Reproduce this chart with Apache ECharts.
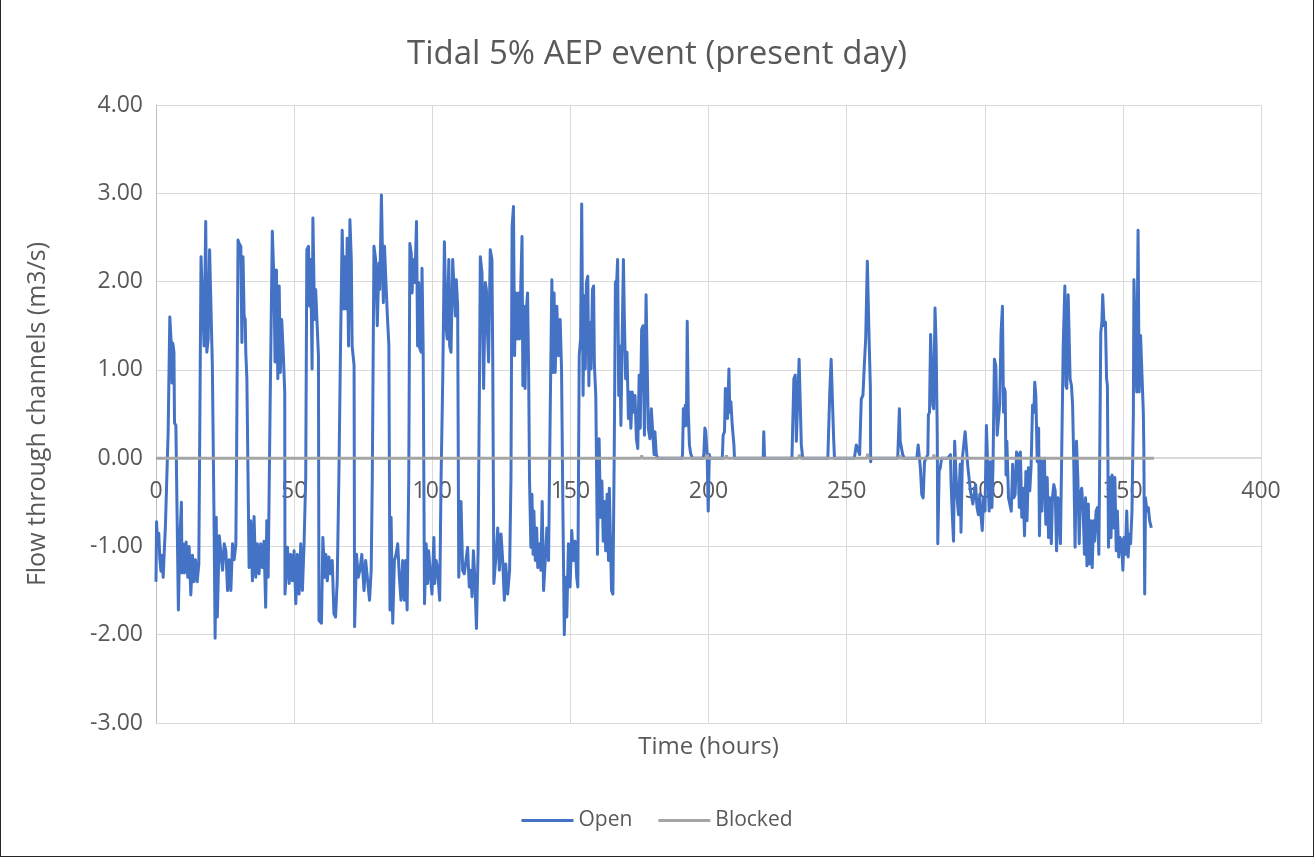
<!DOCTYPE html>
<html>
<head>
<meta charset="utf-8">
<title>Tidal 5% AEP event (present day)</title>
<script src="https://cdn.jsdelivr.net/npm/echarts@6/dist/echarts.min.js"></script>
<style>
  html, body { margin: 0; padding: 0; background: #fff; }
  #chart {
    width: 1312px;
    height: 856px;
    border-left: 1px solid #262626;
    border-right: 1px solid #262626;
    border-bottom: 1px solid #262626;
  }
</style>
</head>
<body>
<div id="chart"></div>
<script>
const chartTitle = 'Tidal 5% AEP event (present day)'
const xAxisTitle = 'Time (hours)'
const yAxisTitle = 'Flow through channels (m3/s)'
const seriesNames = ['Open', 'Blocked']

// x ticks 0..400 step 50, y ticks -3..4 step 1
const xTicks = [0, 50, 100, 150, 200, 250, 300, 350, 400]
const yTicks = [-3, -2, -1, 0, 1, 2, 3, 4]

// [time (h), flow (m3/s)]
const openFlow = [
  [0, -1.40], [0.2, -0.72], [0.6, -1.00], [1.0, -0.85], [1.4, -1.15], [1.8, -1.28], [2.2, -1.10], [2.6, -1.35],
  [3.0, -1.05], [3.4, -0.78], [3.8, -0.78], [4.4, 0.30], [5.0, 1.60], [5.6, 1.25], [5.8, 0.85], [6.1, 1.30],
  [6.5, 1.20], [6.7, 0.40], [7.2, 0.37], [8.1, -1.72], [8.6, -0.95], [9.2, -0.50], [9.4, -1.30], [9.8, -0.97],
  [10.3, -1.30], [10.9, -0.95], [11.5, -1.35], [12.0, -1.00], [12.6, -1.55], [13.2, -1.10], [13.7, -1.40], [14.3, -1.15],
  [14.9, -1.40], [15.5, -1.20], [16.3, 2.28], [16.9, 2.28], [17.4, 1.27], [18.0, 2.68], [18.4, 1.20], [18.9, 1.35],
  [19.4, 2.36], [19.8, 2.36], [20.4, 1.05], [21.0, -0.67], [21.4, -2.04], [21.8, -0.67], [22.2, -1.80], [22.9, -0.88],
  [23.5, -0.90], [24.1, -1.27], [24.7, -0.97], [25.3, -1.05], [25.9, -1.50], [26.5, -1.15], [27.1, -1.50], [27.7, -0.97],
  [28.3, -1.15], [28.9, -0.98], [29.2, 0.15], [29.7, 2.47],
  [30.1, 2.43], [30.7, 2.40], [31.1, 1.31], [31.5, 2.28], [31.9, 1.61], [32.3, 1.57], [32.5, 1.20], [32.9, 0.90],
  [33.7, -1.24], [34.3, -0.71], [34.9, -1.39], [35.5, -0.66], [36.1, -1.35], [36.7, -0.97], [37.3, -1.31], [37.9, -0.97],
  [38.5, -1.24], [39.1, -0.94], [39.7, -1.69], [40.1, -0.71], [40.6, -1.35], [41.3, 0.56], [42.1, 2.57], [42.7, 2.02],
  [43.1, 1.09], [43.6, 2.13], [44.1, 0.90], [44.6, 1.95], [45.0, 0.97], [45.5, 1.57], [46.0, 1.24], [46.6, 0.75],
  [46.7, -1.54], [47.6, -1.01], [48.2, -1.42], [48.8, -1.09], [49.4, -1.39], [50.0, -1.05], [50.6, -1.65], [51.2, -1.09],
  [51.8, -1.54], [52.4, -0.97], [53.0, -1.50], [53.6, -0.97], [54.2, -0.22], [54.6, 2.36], [55.2, 2.40], [55.6, 1.72],
  [56.0, 2.25], [56.5, 1.01], [56.8, 2.72], [57.4, 1.57], [57.8, 1.91], [58.4, 1.91], [58.8, 1.16], [59.0, -1.84],
  [59.9, -1.87], [60.4, -0.90],
  [61.1, -1.35], [61.5, -1.09], [62.0, -1.39], [62.6, -1.12], [63.2, -1.31], [63.8, -1.16], [64.4, -1.76], [65.0, -1.80],
  [65.6, -1.39], [66.2, -0.22], [66.8, 1.27], [67.4, 2.58], [68.0, 1.69], [68.4, 2.28], [68.9, 1.69], [69.2, 2.49],
  [69.7, 1.27], [70.2, 2.70], [70.7, 2.25], [71.0, 1.27], [71.7, 1.05], [71.9, -1.91], [72.6, -1.09], [73.2, -1.35],
  [73.8, -1.27], [74.5, -1.09], [75.3, -1.50], [75.9, -1.16], [76.5, -1.35], [77.3, -1.61], [77.9, -1.27], [78.3, -0.22],
  [78.9, 2.40], [79.5, 2.25], [80.1, 1.50], [80.7, 2.21], [81.0, 1.91], [81.6, 2.98], [82.3, 1.76], [82.7, 2.40],
  [83.2, 2.02], [83.7, 1.65], [84.3, 1.27], [84.7, -1.72], [85.1, -0.67], [85.7, -1.87], [86.3, -1.16], [86.9, -1.09],
  [87.5, -0.97], [88.1, -1.35], [88.7, -1.61], [89.3, -1.16], [89.9, -1.61], [90.4, -1.16], [90.9, -1.72], [91.5, -0.22],
  [91.9, 2.43],
  [92.4, 2.32], [92.7, 1.87], [93.1, 2.25], [93.7, 1.99], [94.3, 2.68], [94.7, 1.27], [95.1, 1.99], [95.5, 1.24],
  [96.0, 1.20], [96.3, 2.15], [96.7, 1.27], [97.2, -1.65], [97.8, -0.97], [98.3, -1.42], [98.7, -1.05], [99.3, -1.31],
  [99.9, -1.54], [100.6, -0.90], [100.9, -1.42], [101.4, -1.16], [101.9, -1.24], [102.7, -1.61], [103.2, -0.22], [103.8, 0.90],
  [104.4, 2.45], [105.0, 1.50], [105.4, 1.35], [106.0, 2.25], [106.3, 1.27], [106.8, 1.20], [107.4, 2.25], [108.0, 2.27],
  [108.4, 1.61], [108.7, 2.02], [109.2, 1.72], [109.6, -1.35], [109.9, -1.35], [110.4, -0.49], [111.0, -1.27], [111.6, -1.31],
  [112.2, -1.16], [112.8, -1.01], [113.4, -1.46], [113.9, -1.27], [114.4, -1.57], [114.9, -1.05], [115.4, -1.35], [116.0, -1.93],
  [116.6, -1.05], [117.1, 0.90], [117.4, 2.28], [118.0, 2.10], [118.6, 0.79], [119.2, 1.99], [119.6, 1.91], [120.0, 1.42],
  [120.4, 1.09], [121.0, 2.36], [121.6, 2.25], [121.9, 1.12], [122.3, -1.42],
  [123.2, -1.05], [123.7, -0.79], [124.3, -1.27], [124.9, -0.86], [125.5, -1.16], [126.1, -1.61], [126.6, -1.20], [127.3, -1.54],
  [128.0, -1.27], [128.5, -0.22], [128.9, 2.62], [129.4, 2.85], [129.8, 1.16], [130.2, 1.87], [130.7, 1.35], [131.1, 1.87],
  [131.6, 1.35], [132.1, 2.02], [132.5, 2.51], [132.8, 0.82], [133.2, 1.72], [133.6, 0.79], [134.0, 1.65], [134.5, 1.87],
  [134.9, 0.97], [135.2, -0.22], [135.7, -1.01], [136.1, -0.41], [136.5, -1.09], [136.8, -0.60], [137.3, -1.16], [137.8, -0.79],
  [138.2, -1.24], [138.9, -0.97], [139.3, -1.27], [139.8, -0.49], [140.3, -1.50], [140.9, -1.16], [141.5, -0.79], [142.1, -1.16],
  [142.7, 0.52], [143.3, 2.02], [143.7, 0.97], [144.1, 1.87], [144.5, 0.97], [145.1, 1.72], [145.7, 1.16], [146.3, 1.57],
  [146.8, 1.01], [147.3, -0.60], [147.8, -2.00], [148.3, -1.35], [148.7, -1.80], [149.3, -0.97], [149.9, -1.46], [150.5, -0.82],
  [151.1, -1.16], [151.7, -0.94],
  [152.3, -1.35], [152.7, -1.46], [153.2, 1.16], [153.7, 1.35], [154.1, 2.88], [154.6, 0.71], [155.0, 1.84], [155.4, 1.01],
  [155.8, 1.99], [156.3, 2.06], [156.7, 0.82], [157.0, 1.54], [157.5, 1.01], [158.0, 1.91], [158.4, 1.95], [158.7, 1.05],
  [159.2, 0.71], [159.8, -1.09], [160.4, 0.22], [160.9, -0.67], [161.4, -0.26], [161.9, -0.94], [162.3, -0.49], [162.8, -1.05],
  [163.3, -0.41], [163.8, -1.16], [164.1, -0.34], [164.6, -0.34], [164.9, -1.50], [165.4, -1.54], [165.9, 0.15], [166.3, 1.99],
  [166.8, 2.02], [167.1, 2.25], [167.5, 0.71], [167.9, 1.27], [168.3, 0.37], [168.8, 1.46], [169.2, 2.25], [169.5, 1.65],
  [170.0, 0.90], [170.5, 1.20], [171.0, 0.45], [171.5, 0.75], [171.9, 0.34], [172.4, 0.75], [172.9, 0.52], [173.4, 0.71],
  [173.9, 0.22], [174.4, 0.11], [174.9, 0.94], [175.3, 0.34], [175.8, 1.46], [176.3, 1.50], [176.8, 0.26], [177.4, 1.85],
  [177.7, 1.27], [178.2, 0.34], [178.8, 0.22], [179.3, 0.56], [179.8, 0.30], [180.3, 0.04], [180.6, 0.30], [181.1, 0.04],
  [181.6, 0],
  [190.4, 0], [190.6, 0.04], [190.9, 0.56], [191.2, 0.36], [191.6, 0.60], [192.0, 0.37], [192.3, 1.55], [192.7, 0.52],
  [193.1, 0.15], [193.5, 0.06], [194.1, 0], [198.0, 0], [198.3, 0.04], [198.7, 0.34], [199.0, 0.30], [199.5, 0.04],
  [199.9, -0.60], [200.3, 0.04], [200.6, 0], [205.0, 0], [205.3, 0.26], [205.8, 0.30], [206.1, 0.79], [206.5, 0.79],
  [206.9, 0.45], [207.4, 1.01], [207.7, 0.52], [208.1, 0.64], [208.6, 0.37], [209.2, 0.15], [209.4, 0],
  [219.8, 0], [220.0, 0.30], [220.3, 0], [230.2, 0], [230.9, 0.90], [231.4, 0.94], [231.8, 0.19], [232.4, 0.17],
  [232.8, 1.12], [233.2, 1.12], [233.6, 0.15], [234.1, 0], [243.2, 0], [243.9, 0.75], [244.4, 1.12], [244.8, 1.12],
  [245.3, 0.22], [245.6, 0],
  [252.8, 0], [253.5, 0.15], [254.1, 0.15], [254.7, 0.04], [255.3, 0.67], [255.9, 0.71], [256.4, 1.05], [256.9, 1.35],
  [257.5, 2.23], [258.1, 1.39], [258.6, 0.79], [258.7, -0.04], [258.9, 0], [268.5, 0], [269.1, 0.56], [269.4, 0.19],
  [269.8, 0.19], [270.3, 0.04], [270.9, 0], [275.4, 0], [275.9, 0.15], [276.2, 0.15], [276.7, -0.11], [277.2, -0.41],
  [277.7, -0.45], [278.2, -0.04], [278.8, 0], [279.4, 0.04], [279.6, 0.49], [280.0, 0.52], [280.4, 1.40], [280.8, 1.38],
  [281.2, 0.60], [281.5, 0.56], [282.0, 1.70], [282.4, 1.27], [282.8, 0.30], [283.0, -0.97], [283.5, -0.15], [283.9, -0.11],
  [284.4, 0], [286.6, 0], [287.6, 0.04], [287.8, -0.26], [288.2, -0.60], [288.7, -0.94], [289.1, 0.19], [289.6, -0.19],
  [290.0, -0.45], [290.5, -0.64], [291.1, -0.07], [291.4, -0.84], [291.9, 0], [292.4, 0.15], [292.9, 0.30], [293.3, 0.30],
  [293.8, -0.07], [294.3, -0.22], [294.8, -0.37], [295.3, -0.45], [295.7, -0.52], [296.2, -0.41], [296.7, -0.30], [297.2, -0.56],
  [297.7, -0.64], [298.2, -0.41], [298.6, -0.64], [299.1, -0.82], [299.6, -0.45], [300.1, -0.60], [300.6, 0.37], [301.1, -0.11],
  [301.6, -0.60], [302.1, -0.04], [302.6, -0.56], [303.0, -0.07], [303.5, 1.12], [304.0, 1.05], [304.5, 0.26], [305.0, 0.45],
  [305.4, 0.60], [305.9, 1.42], [306.4, 1.72], [306.8, 0.52],
  [307.1, 0.79], [307.4, 0.75], [307.7, -0.19], [308.0, 0.19], [308.4, 0.19], [308.6, -0.45], [309.1, -0.45], [309.6, -0.60],
  [310.1, -0.07], [310.5, -0.45], [311.0, -0.41], [311.5, 0.07], [312.0, 0.04], [312.5, -0.56], [312.9, 0.07], [313.4, -0.67],
  [313.9, -0.34], [314.4, -0.88], [314.9, -0.15], [315.3, -0.71], [315.8, -0.11], [316.3, -0.37], [316.8, -0.07], [317.3, 0.60],
  [317.8, 0.52], [318.1, 0.86], [318.5, 0.71], [319.0, -0.04], [319.5, 0.34], [319.8, -0.88], [320.3, 0], [320.7, -0.60],
  [321.2, -0.07], [321.6, 0], [322.1, -0.75], [322.6, -0.22], [323.1, -0.90], [323.6, -0.45], [324.1, -0.97], [324.5, -0.45],
  [325.0, -0.30], [325.5, -0.37], [326.0, -1.05], [326.5, -0.45], [326.9, -0.60], [327.4, -0.97], [327.9, 0.15], [328.4, 1.27],
  [329.0, 1.95], [329.4, 0.82], [329.7, 0.79], [330.2, 1.85], [330.6, 1.87], [330.9, 0.90], [331.4, 0.82], [331.8, 0.60],
  [332.2, 0], [332.7, -1.01], [333.2, 0.19], [333.7, -0.22], [334.2, -0.97], [334.6, -0.41], [335.1, -0.34], [335.6, -0.60],
  [336.1, -1.09], [336.5, -0.45], [337.0, -1.22], [337.5, -0.52],
  [337.9, -1.20], [338.4, -0.71], [338.9, -1.24], [339.4, -0.71], [339.8, -0.94], [340.3, -0.60], [340.8, -0.56], [341.3, -1.09],
  [341.6, -0.07], [342.0, 1.42], [342.4, 1.54], [342.7, 1.85], [343.2, 1.50], [343.7, 1.54], [344.1, 0.90], [344.4, 0.82],
  [344.8, -1.01], [345.3, -0.22], [345.7, -0.90], [346.1, -0.19], [346.6, -0.79], [347.1, -0.22], [347.6, -1.05], [348.0, -0.60],
  [348.5, -1.12], [349.0, -0.90], [349.5, -0.94], [350.0, -1.27], [350.4, -0.90], [350.9, -1.09], [351.4, -0.60], [351.9, -1.12],
  [352.4, -0.86], [352.8, -0.97], [353.3, -0.60], [353.8, 0.52], [354.0, 2.02], [354.5, 2.02], [355.0, 0.75], [355.5, 2.58],
  [355.9, 0.75], [356.4, 1.39], [356.9, 1.39], [357.4, 0.52], [357.6, 0.07], [357.9, -1.54], [358.2, -0.45], [358.7, -0.60],
  [359.2, -0.56], [359.7, -0.71], [360.3, -0.79]
]

// blocked scenario sits on zero with a few tiny blips
const blockedFlow = [
  [0, 0], [175.5, 0], [175.8, 0.03], [176.1, 0], [199.3, 0], [199.6, 0.04], [199.9, 0], [206.2, 0], [206.5, 0.03],
  [206.8, 0], [232.6, 0], [232.9, 0.04], [233.2, 0], [257.3, 0], [257.6, 0.05], [257.9, 0], [268.9, 0], [269.2, 0.03],
  [269.5, 0], [281.3, 0], [281.6, 0.04], [281.9, 0], [361.3, 0]
]

const textColor = '#595959'
const fontFamily = '"Open Sans", "Noto Sans", sans-serif'

const gridTop = 105
const gridBottom = 133
const gridHeight = 857 - gridTop - gridBottom
// lift the x axis from the bottom of the grid up to y = 0, like Excel does
const zeroOffset = -gridHeight * (0 - yTicks[0]) / (yTicks[yTicks.length - 1] - yTicks[0])

const chart = echarts.init(document.getElementById('chart'))

const option = {
  animation: false,
  textStyle: { fontFamily: fontFamily, color: textColor },
  title: {
    text: chartTitle,
    left: 'center',
    top: 33,
    textStyle: {
      fontFamily: fontFamily,
      fontSize: 33,
      fontWeight: 'normal',
      color: textColor
    }
  },
  legend: {
    data: seriesNames,
    top: 805,
    left: 'center',
    icon: 'rect',
    itemWidth: 52,
    itemHeight: 3,
    itemGap: 26,
    textStyle: {
      fontFamily: fontFamily,
      fontSize: 21,
      color: textColor
    }
  },
  grid: {
    left: 155,
    right: 52,
    top: gridTop,
    bottom: gridBottom,
    containLabel: false,
    outerBoundsMode: 'none'
  },
  xAxis: {
    type: 'value',
    min: xTicks[0],
    max: xTicks[xTicks.length - 1],
    interval: 50,
    position: 'bottom',
    offset: zeroOffset,
    name: xAxisTitle,
    nameLocation: 'middle',
    nameGap: 277,
    nameTextStyle: { fontSize: 24, color: textColor },
    axisLine: { onZero: false, lineStyle: { color: '#D9D9D9', width: 1 } },
    axisTick: { show: false },
    axisLabel: { fontSize: 23, color: textColor, margin: 22 },
    splitLine: { show: true, lineStyle: { color: '#D9D9D9', width: 1 } }
  },
  yAxis: {
    type: 'value',
    min: yTicks[0],
    max: yTicks[yTicks.length - 1],
    interval: 1,
    name: yAxisTitle,
    nameLocation: 'middle',
    nameGap: 106,
    nameTextStyle: { fontSize: 25, color: textColor },
    axisLine: { show: true, onZero: false, lineStyle: { color: '#BFBFBF', width: 1 } },
    axisTick: { show: false },
    axisLabel: {
      fontSize: 23,
      color: textColor,
      margin: 13,
      formatter: v => v.toFixed(2)
    },
    splitLine: { show: true, lineStyle: { color: '#D9D9D9', width: 1 } }
  },
  series: [
    {
      name: seriesNames[0],
      type: 'line',
      data: openFlow,
      showSymbol: false,
      symbol: 'none',
      lineStyle: { color: '#4472C4', width: 3, join: 'round' },
      itemStyle: { color: '#4472C4' }
    },
    {
      name: seriesNames[1],
      type: 'line',
      data: blockedFlow,
      showSymbol: false,
      symbol: 'none',
      lineStyle: { color: '#A5A5A5', width: 3 },
      itemStyle: { color: '#A5A5A5' }
    }
  ]
}

chart.setOption(option)
window.addEventListener('resize', () => chart.resize())
</script>
</body>
</html>
